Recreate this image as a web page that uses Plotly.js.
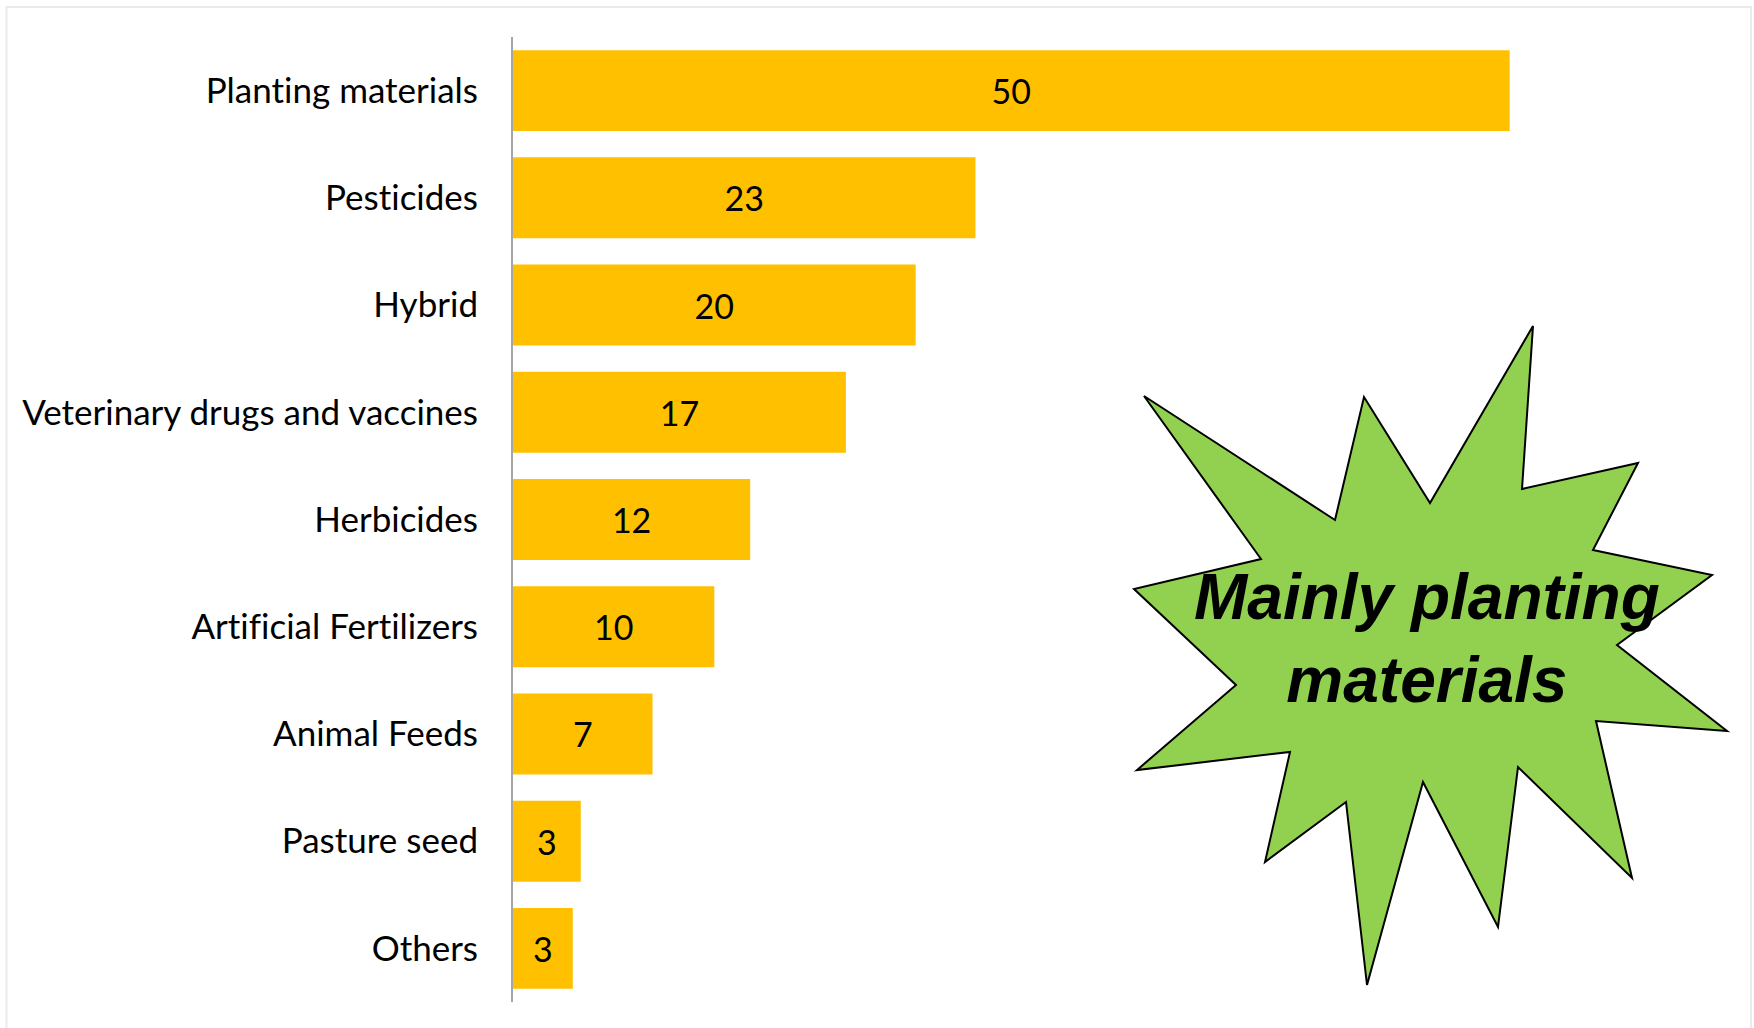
<!DOCTYPE html>
<html>
<head>
<meta charset="utf-8">
<script src="https://cdn.plot.ly/plotly-3.0.1.min.js"></script>
<style>
  html, body { margin: 0; padding: 0; background: #ffffff; }
  #chart { width: 1754px; height: 1028px; }
  #chart text { font-variant-ligatures: none !important; font-feature-settings: "liga" 0, "clig" 0 !important; }
</style>
</head>
<body>
<div id="chart"></div>
<script>
// ---- data ----
const categories = [
  "Planting materials",
  "Pesticides",
  "Hybrid",
  "Veterinary drugs and vaccines",
  "Herbicides",
  "Artificial Fertilizers",
  "Animal Feeds",
  "Pasture seed",
  "Others"
];
const values = [50, 23.2, 20.2, 16.7, 11.9, 10.1, 7.0, 3.4, 3.0];
const calloutText = "Mainly planting<br>materials";

// star callout outline (page pixel coordinates)
const starPx = [
  [1533, 326], [1522, 489], [1638, 463], [1593, 550], [1712, 575],
  [1617, 645], [1727, 731], [1596, 721], [1632, 878], [1518, 767],
  [1498, 927], [1423, 782], [1367, 985], [1346, 802], [1265, 862],
  [1290, 752], [1137, 770], [1236, 685], [1134, 589], [1261, 559],
  [1144, 396], [1335, 520], [1364, 397], [1430, 503]
];

// ---- layout geometry ----
const W = 1754, H = 1028;
const M = { l: 513, r: 45, t: 37, b: 26 };
const plotW = W - M.l - M.r, plotH = H - M.t - M.b;
const toPaperX = px => (px - M.l) / plotW;
const toPaperY = py => (H - M.b - py) / plotH;

const starPath = starPx.map((p, i) =>
  (i === 0 ? "M" : "L") + toPaperX(p[0]).toFixed(5) + "," + toPaperY(p[1]).toFixed(5)
).join(" ") + " Z";

const labelFont = "Lato, 'Open Sans', sans-serif";

const trace = {
  type: "bar",
  orientation: "h",
  y: categories,
  x: values,
  marker: { color: "#FFC000", line: { width: 0 } },
  texttemplate: "%{x:.0f}",
  textposition: "inside",
  insidetextanchor: "middle",
  constraintext: "none",
  textfont: { family: labelFont, size: 34, color: "#000000" },
  hoverinfo: "skip",
  cliponaxis: false
};

const layout = {
  width: W, height: H,
  margin: M,
  paper_bgcolor: "#ffffff",
  plot_bgcolor: "#ffffff",
  showlegend: false,
  bargap: 0.245,
  xaxis: {
    range: [0, 60],
    showgrid: false, zeroline: false, showline: false,
    showticklabels: false, ticks: "",
    fixedrange: true
  },
  yaxis: {
    type: "category",
    categoryorder: "array",
    categoryarray: categories,
    autorange: "reversed",
    showgrid: false, zeroline: false,
    showline: true, linecolor: "#A6A6A6", linewidth: 2,
    ticks: "",
    ticklabelstandoff: 26,
    tickfont: { family: labelFont, size: 35, color: "#000000" },
    fixedrange: true
  },
  shapes: [
    {
      type: "rect", xref: "paper", yref: "paper",
      x0: toPaperX(6.5), x1: toPaperX(1751),
      y0: toPaperY(1040), y1: toPaperY(7),
      line: { color: "#EBEBEB", width: 2 },
      fillcolor: "rgba(0,0,0,0)",
      layer: "below"
    },
    {
      type: "path", xref: "paper", yref: "paper",
      path: starPath,
      fillcolor: "#92D050",
      line: { color: "#000000", width: 2 },
      layer: "above"
    }
  ],
  annotations: [
    {
      xref: "paper", yref: "paper",
      x: toPaperX(1427), y: toPaperY(638),
      xanchor: "center", yanchor: "middle",
      text: "<b><i>" + calloutText + "</i></b>",
      showarrow: false,
      align: "center",
      font: { family: "'Liberation Sans', Arial, sans-serif", size: 64, color: "#000000" }
    }
  ]
};

Plotly.newPlot("chart", [trace], layout, { staticPlot: true, displayModeBar: false });
</script>
</body>
</html>
